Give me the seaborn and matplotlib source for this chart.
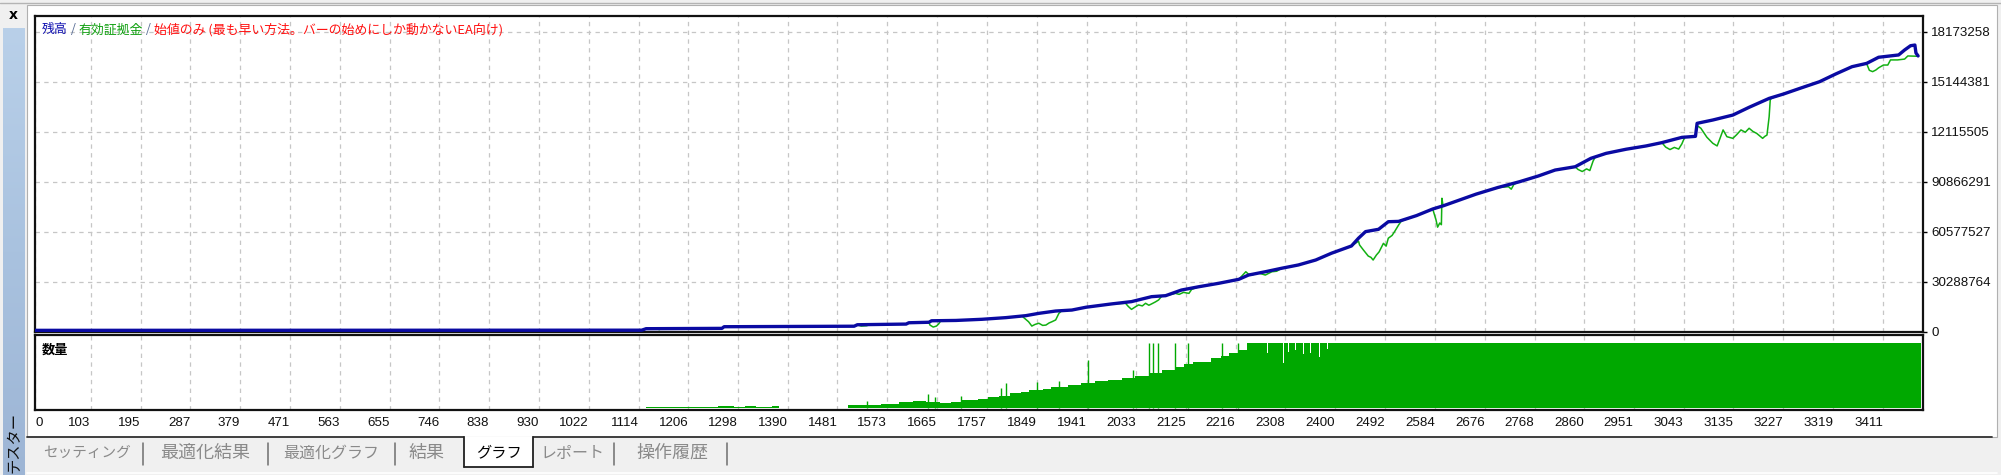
import matplotlib
matplotlib.use("Agg")
import matplotlib.pyplot as plt
import seaborn as sns
import numpy as np
from matplotlib.patches import Rectangle
from matplotlib.lines import Line2D
from matplotlib.colors import LinearSegmentedColormap

# ---------------- data ----------------
# balance (残高) key points: bar index / value in millions
bal_bar = [0, 1120, 1128, 1268, 1272, 1512, 1518, 1608, 1613, 1650, 1655, 1700, 1748, 1792,
           1829, 1853, 1884, 1914, 1940, 1987, 2024, 2061, 2087, 2116, 2148, 2185, 2222, 2240,
           2271, 2301, 2332, 2364, 2393, 2430, 2443, 2456, 2480, 2498, 2517, 2550, 2580, 2600,
           2630, 2660, 2700, 2740, 2775, 2806, 2843, 2872, 2900, 2937, 2974, 3003, 3040, 3065,
           3068, 3097, 3134, 3164, 3201, 3228, 3258, 3294, 3324, 3354, 3381, 3403, 3440, 3451,
           3462, 3470, 3472, 3476]
bal_val = [1.0, 1.1, 2.0, 2.2, 3.2, 3.5, 4.4, 4.8, 5.6, 5.9, 6.8, 7.0, 7.7, 8.7,
           9.9, 11.3, 12.7, 13.3, 15.0, 17.0, 18.4, 21.4, 22.0, 25.4, 27.4, 29.5, 31.9, 34.5,
           36.5, 38.6, 40.6, 43.6, 47.7, 52.1, 56.8, 60.8, 62.2, 66.8, 67.0, 70.5, 74.5, 76.5,
           80.0, 83.5, 87.5, 91.0, 94.5, 98.1, 100.1, 105.2, 108.2, 110.7, 112.7, 114.7, 117.9, 118.5,
           126.4, 128.4, 131.4, 136.1, 141.5, 144.2, 147.6, 151.6, 156.3, 160.7, 162.7, 166.4, 167.8, 170.8,
           173.4, 173.8, 169.0, 167.2]

# equity (有効証拠金) key points: bar index / value in millions
eq_bar = [0, 1120, 1128, 1150, 1152, 1156, 1268, 1272, 1512, 1518, 1525, 1535, 1541, 1608, 1613,
          1650, 1652, 1658, 1664, 1668, 1672, 1700, 1748, 1792, 1822, 1834, 1840, 1846, 1853, 1860,
          1866, 1872, 1877, 1884, 1890, 1895, 1914, 1940, 1987, 2013, 2018, 2024, 2030, 2037, 2044,
          2050, 2056, 2061, 2068, 2074, 2080, 2087, 2105, 2112, 2120, 2130, 2135, 2148, 2185, 2222,
          2235, 2240, 2246, 2258, 2271, 2283, 2292, 2301, 2332, 2364, 2393, 2430, 2443, 2445, 2452,
          2461, 2466, 2470, 2476, 2481, 2489, 2494, 2498, 2505, 2510, 2517, 2522, 2550, 2580, 2586,
          2589, 2593, 2596, 2597, 2599, 2630, 2660, 2700, 2720, 2725, 2730, 2740, 2775, 2806, 2843,
          2848, 2856, 2864, 2870, 2876, 2880, 2900, 2937, 2974, 3003, 3010, 3018, 3026, 3034, 3040,
          3045, 3065, 3068, 3075, 3086, 3097, 3105, 3110, 3116, 3123, 3134, 3141, 3149, 3157, 3164,
          3171, 3178, 3189, 3193, 3197, 3201, 3203, 3205, 3228, 3258, 3294, 3324, 3354, 3381, 3386,
          3392, 3398, 3403, 3412, 3420, 3425, 3438, 3451, 3457, 3476]
eq_val = [1.0, 1.1, 2.0, 2.0, 1.4, 2.0, 2.2, 3.2, 3.5, 4.4, 3.6, 3.8, 4.4, 4.8, 5.6,
          5.9, 4.2, 3.0, 3.6, 4.9, 6.8, 7.0, 7.7, 8.7, 9.6, 6.2, 3.6, 4.6, 5.3, 4.0,
          4.2, 5.5, 6.2, 7.3, 11.3, 12.8, 13.3, 15.0, 17.0, 17.4, 15.5, 13.7, 15.0, 16.4, 15.8,
          17.4, 16.2, 17.0, 18.2, 19.4, 21.8, 22.0, 23.4, 22.8, 24.0, 23.4, 25.8, 27.4, 29.5, 31.9,
          36.5, 35.0, 34.5, 35.8, 34.5, 36.5, 36.8, 38.6, 40.6, 43.6, 47.7, 52.1, 55.0, 52.7, 49.7,
          46.0, 45.2, 43.6, 46.6, 48.5, 53.7, 52.0, 56.8, 58.5, 61.0, 64.8, 67.2, 70.5, 74.5, 68.0,
          63.5, 66.0, 65.0, 81.0, 76.5, 80.0, 83.5, 87.5, 88.0, 86.5, 89.5, 91.0, 94.5, 98.1, 100.1,
          98.5, 97.2, 98.8, 97.8, 103.5, 106.0, 108.2, 110.7, 112.7, 114.7, 112.0, 110.5, 111.8, 110.8, 114.0,
          117.9, 118.5, 125.0, 123.4, 118.0, 114.3, 112.7, 117.0, 122.4, 118.3, 117.3, 119.5, 122.4, 121.0, 123.4,
          121.5, 120.3, 117.3, 118.5, 119.3, 130.4, 140.5, 141.6, 144.2, 147.6, 151.6, 156.3, 160.7, 162.5, 158.5,
          157.7, 158.7, 160.0, 161.7, 161.7, 164.8, 164.8, 165.3, 167.2, 167.0]

# volume (数量) profile, step-wise: bar index / lots (relative)
vol_bar = [1128, 1150, 1175, 1200, 1230, 1260, 1290, 1310, 1330, 1360, 1373, 1500, 1530, 1562,
           1595, 1620, 1644, 1670, 1690, 1710, 1740, 1759, 1780, 1800, 1820, 1834, 1860, 1875,
           1907, 1930, 1957, 1980, 2006, 2031, 2056, 2080, 2105, 2120, 2138, 2171, 2190, 2204,
           2220, 2237, 2274, 2276, 2303, 2305, 2312, 2314, 2325, 2327, 2340, 2342, 2354, 2356,
           2370, 2372, 2385, 2387, 2398, 3481]
vol_val = [1.5, 2.5, 1.5, 2.5, 2.0, 3.0, 2.5, 3.5, 2.5, 3.5, 1.2, 4.5, 5.5, 6.5,
           9.0, 10.5, 9.5, 8.0, 10.0, 12.5, 13.5, 17.5, 19.0, 23.5, 24.5, 27.5, 30.0, 33.0,
           35.5, 38.0, 41.0, 43.0, 45.5, 49.0, 53.3, 58.4, 63.5, 67.0, 71.1, 76.2, 80.0, 84.0,
           89.0, 100.0, 84.0, 100.0, 69.0, 100.0, 86.0, 100.0, 89.0, 100.0, 82.0, 100.0, 84.0, 100.0,
           78.0, 100.0, 90.0, 100.0, 100.0, 100.0]
spike_bar = [1535, 1648, 1661, 1710, 1784, 1792, 1850, 1891, 1944, 2027, 2056, 2064, 2072,
             2105, 2129, 2191, 2220]
spike_val = [11.0, 21.5, 17.7, 18.7, 30.3, 39.0, 40.6, 41.6, 73.6, 58.4, 100.0, 100.0, 100.0,
             100.0, 100.0, 100.0, 100.0]

x_tick_labels = ["0", "103", "195", "287", "379", "471", "563", "655", "746", "838", "930",
                 "1022", "1114", "1206", "1298", "1390", "1481", "1573", "1665", "1757", "1849",
                 "1941", "2033", "2125", "2216", "2308", "2400", "2492", "2584", "2676", "2768",
                 "2860", "2951", "3043", "3135", "3227", "3319", "3411"]
y_tick_values = [0, 30288764, 60577527, 90866291, 121155055, 151443818, 181732582]
y_tick_labels = ["0", "30288764", "60577527", "90866291", "12115505", "15144381", "18173258"]

legend_parts = ["残高", " / ", "有効証拠金", " / ",
                "始値のみ (最も早い方法。バーの始めにしか動かないEA向け)"]
tab_labels = ["セッティング", "最適化結果", "最適化グラフ", "結果", "グラフ", "レポート", "操作履歴"]
volume_title = "数量"
side_title = "テスター"

# ---------------- style ----------------
sns.set_theme(style="white")
plt.rcParams['font.family'] = ['Liberation Sans', 'Noto Sans CJK JP', 'DejaVu Sans']
JP = ['Noto Sans CJK JP', 'DejaVu Sans']

BLUE = '#0a0aa2'
GREEN = '#12b012'
VOLG = '#00a800'
GRID = '#c6c6c6'

W, H = 2001, 475
fig = plt.figure(figsize=(W / 100, H / 100), dpi=100)
fig.patch.set_facecolor('#f0f0f0')


def rect(x0, y0, x1, y1, z=-10, **kw):
    fig.add_artist(Rectangle((x0 / W, 1 - y1 / H), (x1 - x0) / W, (y1 - y0) / H,
                             transform=fig.transFigure, zorder=z, **kw))


def hline(y, x0, x1, z=-5, **kw):
    fig.add_artist(Line2D([x0 / W, x1 / W], [1 - y / H, 1 - y / H],
                          transform=fig.transFigure, zorder=z, **kw))


def vline(x, y0, y1, z=-5, **kw):
    fig.add_artist(Line2D([x / W, x / W], [1 - y0 / H, 1 - y1 / H],
                          transform=fig.transFigure, zorder=z, **kw))


# window chrome
hline(2.5, 0, W, color='#b4b4b4', lw=1)
rect(27, 5, 1997, 437, facecolor='white', edgecolor='#b0b0b0', lw=0.8)
rect(27, 437, 1992, 472, facecolor='#f0f0f0', edgecolor='none')
hline(437, 27, 464, color='#303030', lw=1.3)
hline(437, 533, 1992, color='#303030', lw=1.3)
rect(464, 437, 533, 467, z=-4, facecolor='white', edgecolor='none')
vline(464, 437, 467, z=-3, color='#202020', lw=1.3)
vline(533, 437, 467, z=-3, color='#202020', lw=1.3)
hline(467, 464, 533, z=-3, color='#202020', lw=1.3)
hline(472.5, 27, 1997, color='white', lw=1.2)

# side bar with gradient
sax = fig.add_axes([3 / W, 0, 22 / W, (475 - 28) / H])
grad = np.linspace(0, 1, 256).reshape(-1, 1)
cm = LinearSegmentedColormap.from_list('sb', ['#b9d0e9', '#a9c2df', '#9db5d5'])
sax.imshow(grad, aspect='auto', cmap=cm, extent=[0, 1, 1, 0])
sax.set_axis_off()
sax.text(0.5, 0.072, side_title, rotation=90, ha='center', va='center', fontsize=11,
         color='#101010', family=JP, transform=sax.transAxes)
fig.text(13 / W, 1 - 15 / H, 'x', ha='center', va='center', fontsize=10, weight='bold',
         color='black', family=['DejaVu Sans'])

# ---------------- main chart ----------------
L, R = 35, 1923
ax = fig.add_axes([L / W, 1 - 332 / H, (R - L) / W, (332 - 16) / H])
axv = fig.add_axes([L / W, 1 - 410 / H, (R - L) / W, (410 - 335) / H])
XMAX = 3485
x_ticks = [int(v) for v in x_tick_labels]

sns.lineplot(x=eq_bar, y=eq_val, ax=ax, color=GREEN, lw=1.1, estimator=None, sort=False, zorder=3)
sns.lineplot(x=bal_bar, y=bal_val, ax=ax, color=BLUE, lw=2.4, estimator=None, sort=False, zorder=4)
ax.set_xlim(0, XMAX)
ax.set_ylim(0, 191.4)
ax.set_xticks(x_ticks)
ax.set_yticks([v / 1e6 for v in y_tick_values])
ax.set_yticklabels(y_tick_labels)
ax.yaxis.tick_right()
ax.tick_params(axis='x', length=0, labelbottom=False)
ax.tick_params(axis='y', direction='out', length=3, width=1, color='black', labelsize=9.6,
               pad=3, labelcolor='#111111')
ax.grid(True, color=GRID, linestyle=(0, (3.5, 3.5)), linewidth=0.9)
ax.set_xlabel('')
ax.set_ylabel('')
for s in ax.spines.values():
    s.set_color('#111111')
    s.set_linewidth(1.6)

# legend header text
t = ax.text((42 - L) / (R - L), 0.956, legend_parts[0], transform=ax.transAxes, ha='left',
            va='center', fontsize=9.3, color='#1010b0', family=JP)
cols = ['#5a6e96', '#10a010', '#5a6e96', '#ff1010']
for part, c in zip(legend_parts[1:], cols):
    t = ax.annotate(part, xy=(1, 0), xycoords=t, ha='left', va='bottom', fontsize=9.3,
                    color=c, family=JP)

# ---------------- volume panel ----------------
axv.fill_between(vol_bar, vol_val, step='post', color=VOLG, lw=0, zorder=3)
axv.vlines(spike_bar, 0, spike_val, color=VOLG, lw=1.0, zorder=3)
axv.set_xlim(0, XMAX)
axv.set_ylim(-2.6, 111.7)
axv.set_yticks([])
axv.set_xticks(x_ticks)
axv.set_xticklabels(x_tick_labels)
axv.tick_params(axis='x', direction='out', length=3, width=1, color='black', labelsize=9.6,
                pad=1.8, labelcolor='#111111')
for i, lbl in enumerate(axv.get_xticklabels()):
    lbl.set_ha('left' if i == 0 else 'right')
axv.grid(True, axis='x', color=GRID, linestyle=(0, (3.5, 3.5)), linewidth=0.9)
for s in axv.spines.values():
    s.set_color('#111111')
    s.set_linewidth(1.6)
axv.text((42 - L) / (R - L), 0.8, volume_title, transform=axv.transAxes, ha='left', va='center',
         fontsize=9.5, weight='bold', color='black', family=JP)

# ---------------- tabs ----------------
tab_x = [87, 205, 331, 427, 499, 572, 672]
tab_fs = [10.5, 13, 11.5, 13, 11, 11.5, 13]
for lab, x, fs in zip(tab_labels, tab_x, tab_fs):
    fig.text(x / W, 1 - 453 / H, lab, ha='center', va='center', fontsize=fs, family=JP,
             color='black' if lab == 'グラフ' else '#8a8a8a')
for x in [143, 268, 395, 614, 727]:
    vline(x, 443, 465, z=-3, color='#6e6e6e', lw=1.1)

fig.savefig('out.png', dpi=100, facecolor=fig.get_facecolor())
